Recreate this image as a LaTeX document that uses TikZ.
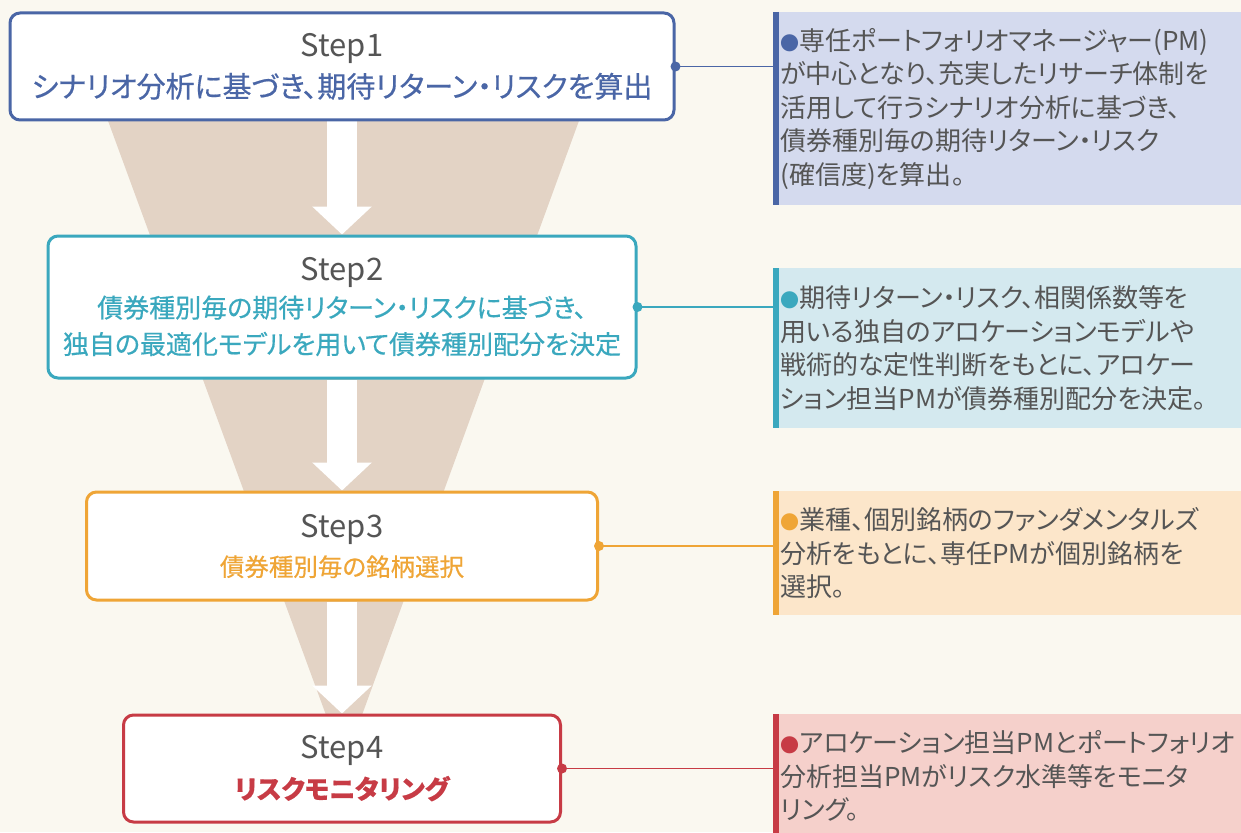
\documentclass[tikz,border=0pt]{standalone}
\usepackage{fontspec}
\usepackage{xcolor}
\setmainfont{Noto Sans CJK JP}
\newfontfamily\jp[RawFeature=+palt]{Noto Sans CJK JP}
\newfontfamily\jpm[RawFeature=+palt, FakeBold=0.5]{Noto Sans CJK JP}
\usetikzlibrary{arrows.meta}
\usetikzlibrary{positioning, backgrounds}

\definecolor{bgcol}{HTML}{FAF8F0}
\definecolor{funnelcol}{HTML}{E3D3C5}
\definecolor{txtgray}{HTML}{555555}
\definecolor{stepgray}{HTML}{555555}
\definecolor{cone}{HTML}{4A66A6}
\definecolor{conefill}{HTML}{D4DAEE}
\definecolor{ctwo}{HTML}{3AA8BE}
\definecolor{ctwofill}{HTML}{D4E9EF}
\definecolor{cthree}{HTML}{EFA536}
\definecolor{cthreefill}{HTML}{FCE6CA}
\definecolor{cfour}{HTML}{C73B45}
\definecolor{cfourfill}{HTML}{F5D0CB}

\tikzset{
  stepbox/.style={draw=#1, line width=3pt, rounded corners=10pt, fill=white,
    align=center, text=stepgray, font=\jpm\fontsize{26}{40}\selectfont},
  notebox/.style={fill=#1fill, anchor=north west, text width=462pt, inner xsep=4pt,
    inner ysep=0pt, align=left, text=txtgray, font=\jp\fontsize{26}{33.5}\selectfont},
  notebar/.style={draw=#1, line width=6pt},
  link/.style={draw=#1, line width=1.5pt},
  stepdot/.style={circle, fill=#1, inner sep=0pt, minimum size=10pt},
  bigarrow/.style={white, line width=30pt, -{Triangle[length=28pt,width=58pt]}},
}
\newcommand{\bul}[1]{{\color{#1}\fontsize{19}{19}\selectfont ●}}
\newcommand{\steplbl}[1]{{\jp\fontsize{31}{40}\selectfont #1}}

\begin{document}
\begin{tikzpicture}[x=1pt, y=-1pt]
  \useasboundingbox (0,0) rectangle (1241,832);
  \clip (0,0) rectangle (1241,832);

  % 左侧四个步骤框
  \node[stepbox=cone, minimum width=664pt, minimum height=107pt, font=\jpm\fontsize{29}{41}\selectfont] (step1) at (342,66.5)
    {\steplbl{Step1}\\ \textcolor{cone}{シナリオ分析に基づき、期待リターン・リスクを算出}};
  \node[stepbox=ctwo, minimum width=588pt, minimum height=142pt, below=113pt of step1,
    font=\jpm\fontsize{26}{36.5}\selectfont] (step2)
    {\steplbl{Step2}\\ \textcolor{ctwo}{債券種別毎の期待リターン・リスクに基づき、}\\
     \textcolor{ctwo}{独自の最適化モデルを用いて債券種別配分を決定}};
  \node[stepbox=cthree, minimum width=511pt, minimum height=108pt, below=111pt of step2,
    font=\jpm\fontsize{24.5}{39}\selectfont] (step3)
    {\steplbl{Step3}\\ \textcolor{cthree}{債券種別毎の銘柄選択}};
  \node[stepbox=cfour, minimum width=437pt, minimum height=107pt, below=112pt of step3] (step4)
    {\steplbl{Step4}\\ \textcolor{cfour}{\bfseries リスクモニタリング}};

  % 漏斗和白色箭头放在背景层
  \begin{scope}[on background layer]
    \fill[bgcol] (0,0) rectangle (1241,832);
    \fill[funnelcol] (107,118) -- (580,118) -- (362,715) -- (326,715) -- cycle;
    \draw[bigarrow] (step1.south) -- (step2.north);
    \draw[bigarrow] (step2.south) -- (step3.north);
    \draw[bigarrow] (step3.south) -- (step4.north);
  \end{scope}

  % 右侧说明框
  \node[notebox=cone, minimum height=193pt] (note1) at (776,12)
    {\bul{cone}専任ポートフォリオマネージャー(PM)\\
     が中心となり、充実したリサーチ体制を\\
     活用して行うシナリオ分析に基づき、\\
     債券種別毎の期待リターン・リスク\\
     (確信度)を算出。};
  \node[notebox=ctwo, minimum height=160pt] (note2) at (776,268)
    {\bul{ctwo}期待リターン・リスク、相関係数等を\\
     用いる独自のアロケーションモデルや\\
     戦術的な定性判断をもとに、アロケー\\
     ション担当PMが債券種別配分を決定。};
  \node[notebox=cthree, minimum height=124pt] (note3) at (776,491)
    {\bul{cthree}業種、個別銘柄のファンダメンタルズ\\
     分析をもとに、専任PMが個別銘柄を\\
     選択。};
  \node[notebox=cfour, minimum height=124pt] (note4) at (776,714)
    {\bul{cfour}アロケーション担当PMとポートフォリオ\\
     分析担当PMがリスク水準等をモニタ\\
     リング。};

  % 左边竖条
  \draw[notebar=cone] (note1.north west) -- (note1.south west);
  \draw[notebar=ctwo] (note2.north west) -- (note2.south west);
  \draw[notebar=cthree] (note3.north west) -- (note3.south west);
  \draw[notebar=cfour] (note4.north west) -- (note4.south west);

  % 连接线和圆点
  \draw[link=cone] (step1.east) -- (step1.east -| note1.west);
  \draw[link=ctwo] (step2.east) -- (step2.east -| note2.west);
  \draw[link=cthree] (step3.east) -- (step3.east -| note3.west);
  \draw[link=cfour] (step4.east) -- (step4.east -| note4.west);
  \node[stepdot=cone] (dot1) at (step1.east) {};
  \node[stepdot=ctwo] (dot2) at (step2.east) {};
  \node[stepdot=cthree] (dot3) at (step3.east) {};
  \node[stepdot=cfour] (dot4) at (step4.east) {};
\end{tikzpicture}
\end{document}
